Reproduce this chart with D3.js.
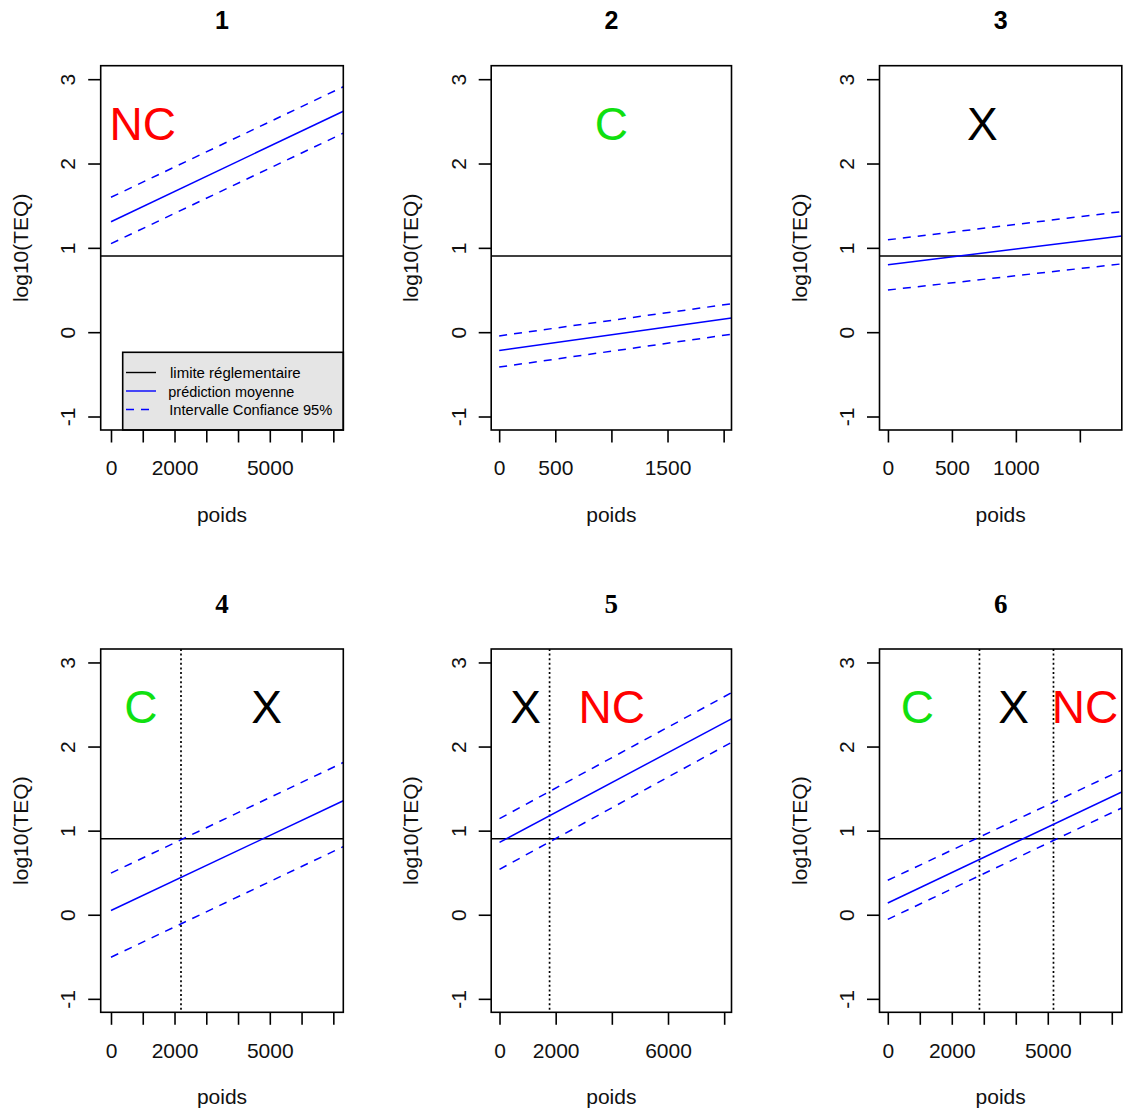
<!DOCTYPE html>
<html>
<head>
<meta charset="utf-8">
<script src="https://cdn.jsdelivr.net/npm/d3@7"></script>
<style>
  html, body { margin: 0; padding: 0; background: #fff; }
  svg { display: block; }
</style>
</head>
<body>
<script>
// ---------------- DATA ----------------
const panelTitles = ["1", "2", "3", "4", "5", "6"];
const limitValue = 0.903;                 // limite réglementaire (log10)
const yDomain = [-1.16, 3.16];
const yTicks = [-1, 0, 1, 2, 3];
const xDomains = [
  [-324, 7314], [-71, 2070], [-66, 1828],
  [-324, 7314], [-296, 8261], [-259, 7313]
];
const xTicks = [
  [0, 1000, 2000, 3000, 4000, 5000, 6000, 7000],
  [0, 500, 1000, 1500, 2000],
  [0, 500, 1000, 1500],
  [0, 1000, 2000, 3000, 4000, 5000, 6000, 7000],
  [0, 2000, 4000, 6000, 8000],
  [0, 1000, 2000, 3000, 4000, 5000, 6000, 7000]
];
const xTickLabels = [
  [0, 2000, 5000], [0, 500, 1500], [0, 500, 1000],
  [0, 2000, 5000], [0, 2000, 6000], [0, 2000, 5000]
];
// poids range covered by the prediction lines
const lineX = [
  [0, 7314], [0, 2070], [0, 1828],
  [0, 7314], [0, 8261], [0, 7313]
];
// prédiction moyenne at start / end of lineX
const meanPred = [
  [1.31, 2.62], [-0.217, 0.169], [0.80, 1.14],
  [0.05, 1.355], [0.86, 2.33], [0.14, 1.46]
];
// intervalle de confiance 95% (upper / lower)
const upperCI = [
  [1.60, 2.91], [-0.044, 0.337], [1.095, 1.43],
  [0.495, 1.81], [1.143, 2.64], [0.41, 1.72]
];
const lowerCI = [
  [1.05, 2.36], [-0.414, -0.024], [0.50, 0.81],
  [-0.505, 0.81], [0.54, 2.05], [-0.055, 1.27]
];
// poids thresholds (vertical dotted lines)
const thresholds = [[], [], [], [2204], [1783], [2865, 5178]];
// zone labels: text and poids position
const zoneText = [["NC"], ["C"], ["X"], ["C", "X"], ["X", "NC"], ["C", "X", "NC"]];
const zoneX = [[1000], [1000], [737], [940, 4900], [927, 4000], [928, 3928, 6166]];
const zoneY = 2.48;
const legendLabels = ["limite réglementaire", "prédiction moyenne", "Intervalle Confiance 95%"];

// ---------------- STYLE / LAYOUT ----------------
const W = 1128, H = 1109;
const colL = [100.7, 491.2, 879.5], colR = [343.3, 731.5, 1121.8];
const rowT = [65.7, 649], rowB = [430, 1012.3];
const zoneColor = { "NC": "#ff0000", "C": "#10e010", "X": "#000000" };
const SANS = "'Liberation Sans', Arial, Helvetica, sans-serif";
const SERIF = "'Liberation Serif', 'Times New Roman', serif";
const BLUE = "#0000ff";

const svg = d3.select("body").append("svg")
  .attr("width", W).attr("height", H)
  .attr("viewBox", `0 0 ${W} ${H}`);
svg.append("rect").attr("width", W).attr("height", H).attr("fill", "#fff");

panelTitles.forEach((title, i) => {
  const col = i % 3, row = Math.floor(i / 3);
  const L = colL[col], R = colR[col], T = rowT[row], B = rowB[row];
  const x = d3.scaleLinear().domain(xDomains[i]).range([L, R]);
  const y = d3.scaleLinear().domain(yDomain).range([B, T]);
  const g = svg.append("g");

  const clipId = "clip" + i;
  svg.append("clipPath").attr("id", clipId)
    .append("rect").attr("x", L).attr("y", T).attr("width", R - L).attr("height", B - T);
  const plot = g.append("g").attr("clip-path", `url(#${clipId})`);

  // limit line
  plot.append("line")
    .attr("x1", L).attr("x2", R)
    .attr("y1", y(limitValue)).attr("y2", y(limitValue))
    .attr("stroke", "#000").attr("stroke-width", 1.6);

  // threshold dotted lines
  thresholds[i].forEach(t => {
    plot.append("line")
      .attr("x1", x(t)).attr("x2", x(t)).attr("y1", T).attr("y2", B)
      .attr("stroke", "#000").attr("stroke-width", 1.7)
      .attr("stroke-dasharray", "2,2.6");
  });

  const line = d3.line().x(d => x(d[0])).y(d => y(d[1]));
  const seg = vals => [[lineX[i][0], vals[0]], [lineX[i][1], vals[1]]];

  plot.append("path").datum(seg(meanPred[i])).attr("d", line)
    .attr("fill", "none").attr("stroke", BLUE).attr("stroke-width", 1.5);
  [upperCI[i], lowerCI[i]].forEach(ci => {
    plot.append("path").datum(seg(ci)).attr("d", line)
      .attr("fill", "none").attr("stroke", BLUE).attr("stroke-width", 1.5)
      .attr("stroke-dasharray", "8,7");
  });

  // zone labels
  const fs = 46;
  zoneText[i].forEach((t, k) => {
    plot.append("text")
      .attr("x", x(zoneX[i][k])).attr("y", y(zoneY) + 0.358 * fs)
      .attr("text-anchor", "middle")
      .attr("font-family", SANS).attr("font-size", fs)
      .attr("fill", zoneColor[t]).text(t);
  });

  // legend (panel 1)
  if (i === 0) {
    const lg = g.append("g");
    const lx = 122.7, ly = 352.3;
    lg.append("rect").attr("x", lx).attr("y", ly)
      .attr("width", R - lx).attr("height", B - ly)
      .attr("fill", "#e5e5e5").attr("stroke", "#000").attr("stroke-width", 1.6);
    const rowsY = [372.5, 391, 409.5];
    const lens = [130.7, 126, 163];
    const txX = [170, 168.3, 169.3];
    const strokes = ["#000", BLUE, BLUE];
    const dashes = [null, null, "8,7"];
    legendLabels.forEach((lab, k) => {
      lg.append("line").attr("x1", 126).attr("x2", 156)
        .attr("y1", rowsY[k]).attr("y2", rowsY[k])
        .attr("stroke", strokes[k]).attr("stroke-width", 1.4)
        .attr("stroke-dasharray", dashes[k]);
      lg.append("text").attr("x", txX[k]).attr("y", rowsY[k] + 5.5)
        .attr("font-family", SANS).attr("font-size", 15.5)
        .attr("textLength", lens[k]).attr("lengthAdjust", "spacingAndGlyphs")
        .attr("fill", "#000").text(lab);
    });
  }

  // box
  g.append("rect").attr("x", L).attr("y", T).attr("width", R - L).attr("height", B - T)
    .attr("fill", "none").attr("stroke", "#000").attr("stroke-width", 1.6);

  // x axis
  const xa = g.append("g").attr("transform", `translate(0,${B})`)
    .call(d3.axisBottom(x).tickValues(xTicks[i]).tickSize(12.5).tickPadding(18)
      .tickFormat(d => xTickLabels[i].includes(d) ? String(d) : ""));
  xa.select(".domain").remove();
  xa.selectAll("line").attr("stroke", "#000").attr("stroke-width", 1.6);
  xa.selectAll("text").attr("font-family", SANS).attr("font-size", 21).attr("fill", "#111");

  // y axis
  const ya = g.append("g").attr("transform", `translate(${L},0)`)
    .call(d3.axisLeft(y).tickValues(yTicks).tickSize(12.5).tickFormat(d => String(d)));
  ya.select(".domain").remove();
  ya.selectAll("line").attr("stroke", "#000").attr("stroke-width", 1.6);
  ya.selectAll("text")
    .attr("x", 0).attr("y", -25.7).attr("dy", null)
    .attr("text-anchor", "middle").attr("transform", "rotate(-90)")
    .attr("font-family", SANS).attr("font-size", 21).attr("fill", "#111");

  // axis titles
  g.append("text").attr("x", (L + R) / 2).attr("y", B + 91.5)
    .attr("text-anchor", "middle").attr("font-family", SANS).attr("font-size", 21)
    .attr("fill", "#111").text("poids");
  g.append("text")
    .attr("transform", `translate(${L - 73},${(T + B) / 2}) rotate(-90)`)
    .attr("text-anchor", "middle").attr("font-family", SANS).attr("font-size", 21)
    .attr("fill", "#111").text("log10(TEQ)");

  // panel title
  g.append("text").attr("x", (L + R) / 2).attr("y", T - 36.4)
    .attr("text-anchor", "middle")
    .attr("font-family", row === 0 ? SANS : SERIF)
    .attr("font-weight", "bold").attr("font-size", row === 0 ? 25 : 27)
    .attr("fill", "#000").text(title);
});
</script>
</body>
</html>
